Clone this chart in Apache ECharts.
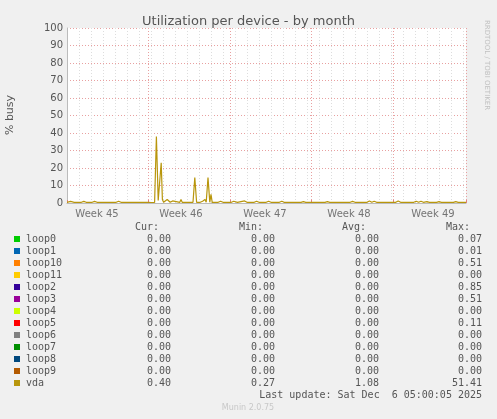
<!DOCTYPE html>
<html><head><meta charset="utf-8">
<script src="https://cdn.jsdelivr.net/npm/echarts@6/dist/echarts.min.js"></script>
<style>html,body{margin:0;padding:0;background:#f0f0f0}#c{width:497px;height:419px}</style>
</head><body><div id="c"></div>
<script>
// x = days since start of graph window; week boundaries at 6,13,20,27
const weekLabels = ['Week 45','Week 46','Week 47','Week 48','Week 49'];
const weekCenters = [2.5, 9.5, 16.5, 23.5, 30.5];
const vda = [
 [0,0.4],[0.3,0.9],[0.6,0.4],[1.2,0.4],[1.4,0.9],[1.6,0.4],[2.1,0.4],[2.3,0.9],[2.5,0.4],[4.1,0.4],[4.3,1],[4.5,0.4],
 [5.9,0.4],[6.8,0.4],[7.0,0.3],[7.3,0.3],[7.45,38],[7.6,1.5],[7.75,0.4],[7.85,23],[7.95,2],[8.05,0.4],
 [8.2,1],[8.35,2],[8.5,2],[8.6,0.4],[8.8,1.2],[8.9,0.4],[9.4,0.4],[9.5,2],[9.6,0.4],[9.8,0.4],
 [10.5,0.4],[10.65,14.5],[10.8,0.4],[11.1,0.4],[11.3,1],[11.5,2],[11.6,0.4],[11.75,14.5],[11.9,0.4],[12.0,5],[12.1,0.4],
 [12.6,0.4],[12.8,1],[13,0.4],[13.7,0.4],[13.9,1],[14.2,0.4],[14.8,1.2],[15.0,0.4],[15.6,0.4],[15.8,1],[16.0,0.4],
 [16.6,0.4],[16.8,1],[17.0,0.4],[17.7,0.4],[17.9,1],[18.1,0.4],[19.5,0.4],[19.7,0.8],[19.9,0.4],
 [21.5,0.4],[21.7,0.8],[21.9,0.4],[23.6,0.4],[23.8,0.9],[24.0,0.4],[25.0,0.4],[25.2,1.2],[25.4,0.4],[25.6,1],[25.8,0.4],
 [27.4,0.4],[27.6,1.2],[27.8,0.4],[28.9,0.4],[29.1,1],[29.3,0.4],[29.5,1],[29.7,0.4],[30.0,0.8],[30.2,0.4],
 [30.8,0.4],[31.0,0.8],[31.2,0.4],[32.2,0.4],[32.4,0.8],[32.6,0.4],[33.25,0.4]
];
const names = ['loop0','loop1','loop10','loop11','loop2','loop3','loop4','loop5','loop6','loop7','loop8','loop9','vda'];
const colors = ['#00cc00','#0066b3','#ff8000','#ffcc00','#330099','#990099','#ccff00','#ff0000','#808080','#008f00','#00487d','#b35a00','#b8960c'];
const curV = ['0.00','0.00','0.00','0.00','0.00','0.00','0.00','0.00','0.00','0.00','0.00','0.00','0.40'];
const minV = ['0.00','0.00','0.00','0.00','0.00','0.00','0.00','0.00','0.00','0.00','0.00','0.00','0.27'];
const avgV = ['0.00','0.00','0.00','0.00','0.00','0.00','0.00','0.00','0.00','0.00','0.00','0.00','1.08'];
const maxV = ['0.07','0.01','0.51','0.00','0.85','0.51','0.00','0.11','0.00','0.00','0.00','0.00','51.41'];

const mono = 'DejaVu Sans Mono';
const tc = '#555';
const g = [];
const hdr = [['Cur:',159],['Min:',263],['Avg:',366],['Max:',470]];
hdr.forEach(h=>g.push({type:'text',x:h[1],y:227,style:{text:h[0],font:'10px '+mono,fill:tc,align:'right',verticalAlign:'middle'}}));
names.forEach((n,i)=>{
  const y = 239 + i*12;
  g.push({type:'rect',shape:{x:14,y:y-3,width:6,height:6},style:{fill:colors[i]}});
  g.push({type:'text',x:26,y:y,style:{text:n,font:'10px '+mono,fill:tc,verticalAlign:'middle'}});
  [[curV,171],[minV,275],[avgV,379],[maxV,482]].forEach(c=>
    g.push({type:'text',x:c[1],y:y,style:{text:c[0][i],font:'10px '+mono,fill:tc,align:'right',verticalAlign:'middle'}}));
});
g.push({type:'text',x:482,y:395,style:{text:'Last update: Sat Dec  6 05:00:05 2025',font:'10px '+mono,fill:tc,align:'right',verticalAlign:'middle'}});
g.push({type:'text',x:248,y:408,style:{text:'Munin 2.0.75',font:'8px DejaVu Sans',fill:'#c8c8c8',align:'center',verticalAlign:'middle'}});
g.push({type:'text',x:10,y:115,rotation:Math.PI/2,style:{text:'% busy',font:'11px DejaVu Sans',fill:tc,align:'center',verticalAlign:'middle'}});
g.push({type:'text',x:487,y:65,rotation:-Math.PI/2,style:{text:'RRDTOOL / TOBI OETIKER',font:'7px DejaVu Sans',fill:'#c0c0c0',align:'center',verticalAlign:'middle'}});
g.push({type:'rect',shape:{x:67,y:28,width:399,height:175},style:{fill:'#fff'},z:-10});

const chart = echarts.init(document.getElementById('c'));
chart.setOption({
  backgroundColor:'#f0f0f0',
  animation:false,
  title:{text:'Utilization per device - by month',left:'center',top:10,textStyle:{fontFamily:'DejaVu Sans',fontSize:13,fontWeight:'normal',color:'#555'}},
  grid:{left:67,top:28,width:399,height:175},
  graphic:g,
  xAxis:[{type:'value',min:0,max:33.25,interval:1,
    axisLine:{lineStyle:{color:'#bbb'}},axisTick:{show:false},axisLabel:{show:false},
    splitLine:{lineStyle:{color:'#ddd',type:[1,2]}}},
   {type:'value',min:-1,max:33.25,interval:7,position:'bottom',
    axisLine:{show:false},axisTick:{show:true,length:3,inside:true,lineStyle:{color:'#e08080'}},axisLabel:{show:false},
    splitLine:{lineStyle:{color:'#e8a0a0',type:[1,2]}}}],
  yAxis:{type:'value',min:0,max:100,interval:10,
    axisLine:{show:true,lineStyle:{color:'#bbb'}},axisTick:{show:false},
    axisLabel:{color:'#555',fontFamily:'DejaVu Sans',fontSize:10,margin:4},
    splitLine:{lineStyle:{color:'#e8a0a0',type:[1,2]}}},
  series:[
   {type:'line',data:vda,showSymbol:false,lineStyle:{color:'#b8960c',width:1.2},itemStyle:{color:'#b8960c'},z:5},
   {type:'scatter',xAxisIndex:0,data:weekCenters.map((c,i)=>[c,0]),symbolSize:0,
    label:{show:true,position:'bottom',distance:6,formatter:p=>weekLabels[p.dataIndex],color:'#555',fontFamily:'DejaVu Sans',fontSize:10}}
  ]
});
</script></body></html>
